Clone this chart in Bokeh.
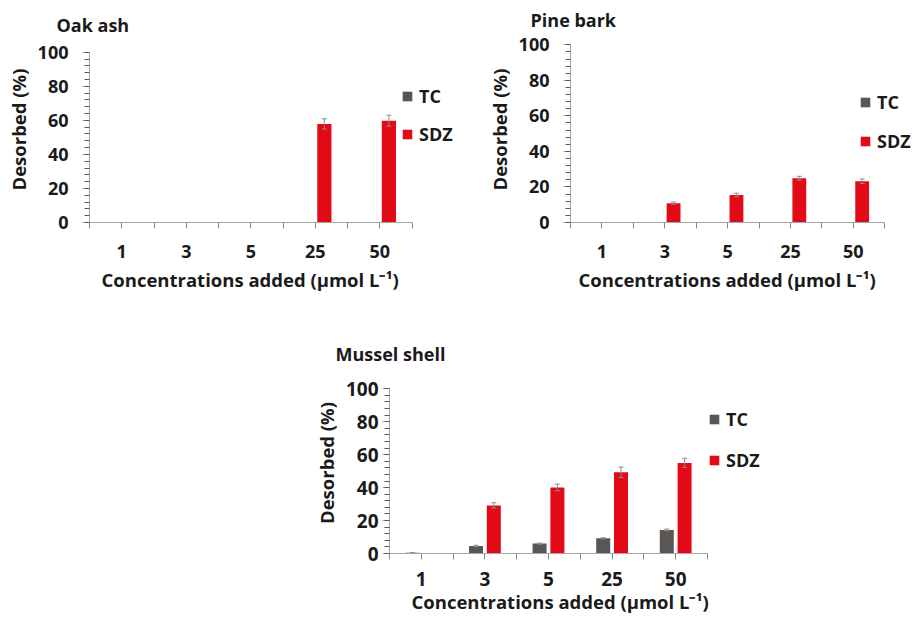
from bokeh.plotting import figure
from bokeh.models import (Range1d, FixedTicker, Legend, LegendItem, Title,
                          ColumnDataSource, Whisker, TeeHead, Spacer)
from bokeh.layouts import column, row
from bokeh.embed import file_html
from bokeh.resources import INLINE

# ---------------- data ----------------
categories = ["1", "3", "5", "25", "50"]
series_names = ["TC", "SDZ"]
y_ticks = [0, 20, 40, 60, 80, 100]
y_minor = list(range(0, 101, 4))

oak_tc = [0, 0, 0, 0, 0]
oak_tc_err = [0, 0, 0, 0, 0]
oak_sdz = [0, 0, 0, 57.9, 59.8]
oak_sdz_err = [0, 0, 0, 3.0, 3.2]

pine_tc = [0, 0, 0, 0, 0]
pine_tc_err = [0, 0, 0, 0, 0]
pine_sdz = [0, 10.9, 15.5, 24.9, 23.2]
pine_sdz_err = [0, 0.6, 1.0, 1.1, 1.3]

mussel_tc = [0.4, 4.6, 6.0, 9.3, 14.3]
mussel_tc_err = [0.1, 0.4, 0.3, 0.3, 0.5]
mussel_sdz = [0, 29.2, 40.1, 49.3, 55.0]
mussel_sdz_err = [0, 1.6, 2.0, 3.2, 2.8]

# ---------------- style ----------------
FONT = "Open Sans"
TXT = "#1a1a1a"
GRAY = "#5a5654"
RED = "#e30a17"
AXIS = "#a6a6a6"
XT = "Concentrations added (\u00b5mol L\u207b\u00b9)"
YT = "Desorbed (%)"


def make_panel(title, tc, tc_err, sdz, sdz_err, width, height, bl, bt, bb,
               axis_px, axis_top, frame_bottom,
               tick_fs, y_stand, x_stand, ylab_stand,
               title_off, title_stand, xt_off, xt_stand, leg_xy, leg_spacing):
    n = len(categories)
    frame_w = width - bl
    x_end = n * frame_w / axis_px
    # frame spans bt..frame_bottom; the value 100 sits at axis_top
    y_end = 100 * (frame_bottom - bt) / (frame_bottom - axis_top)
    p = figure(width=width, height=height, x_range=Range1d(0, x_end), y_range=Range1d(0, y_end),
               output_backend="svg", toolbar_location=None,
               min_border_left=bl, min_border_right=0, min_border_top=bt, min_border_bottom=bb)
    p.outline_line_color = None
    p.xgrid.visible = False
    p.ygrid.visible = False

    p.title.text = title
    p.title.align = "left"
    p.title.offset = title_off
    p.title.standoff = title_stand
    p.title.text_font = FONT
    p.title.text_font_style = "bold"
    p.title.text_font_size = "18px"
    p.title.text_color = TXT

    centers = [i + 0.5 for i in range(n)]
    src = ColumnDataSource(dict(
        x_tc=[c - 0.14 for c in centers], x_sdz=[c + 0.14 for c in centers],
        tc=tc, sdz=sdz))
    r_tc = p.vbar(x="x_tc", top="tc", width=0.22, source=src, fill_color=GRAY, line_color=None)
    r_sdz = p.vbar(x="x_sdz", top="sdz", width=0.22, source=src, fill_color=RED, line_color=None)

    for xs, vals, errs in ((src.data["x_tc"], tc, tc_err), (src.data["x_sdz"], sdz, sdz_err)):
        keep = [i for i, e in enumerate(errs) if e > 0]
        if not keep:
            continue
        es = ColumnDataSource(dict(
            x=[xs[i] for i in keep],
            upper=[vals[i] + errs[i] for i in keep],
            lower=[vals[i] - errs[i] for i in keep]))
        w = Whisker(base="x", upper="upper", lower="lower", source=es,
                    line_color="#8c8c8c", line_width=1, level="overlay",
                    upper_head=TeeHead(size=5, line_color="#8c8c8c", line_width=1),
                    lower_head=TeeHead(size=5, line_color="#8c8c8c", line_width=1))
        p.add_layout(w)

    xa = p.xaxis[0]
    xa.bounds = (0, n)
    xa.ticker = FixedTicker(ticks=centers, minor_ticks=list(range(n + 1)))
    xa.major_label_overrides = {c: lab for c, lab in zip(centers, categories)}
    xa.axis_line_color = AXIS
    xa.major_tick_line_color = "#8c8c8c"
    xa.minor_tick_line_color = "#8c8c8c"
    xa.major_tick_out = 6
    xa.major_tick_in = 0
    xa.minor_tick_out = 6
    xa.minor_tick_in = 0
    xa.major_label_standoff = x_stand

    ya = p.yaxis[0]
    ya.bounds = (0, 100)
    ya.ticker = FixedTicker(ticks=y_ticks, minor_ticks=y_minor)
    ya.axis_line_color = AXIS
    ya.major_tick_line_color = AXIS
    ya.minor_tick_line_color = "#595959"
    ya.major_tick_out = 7
    ya.major_tick_in = 0
    ya.minor_tick_out = 5
    ya.minor_tick_in = 0
    ya.major_label_standoff = y_stand
    ya.axis_label = YT
    ya.axis_label_standoff = ylab_stand

    for ax in (xa, ya):
        ax.major_label_text_font = FONT
        ax.major_label_text_font_style = "bold"
        ax.major_label_text_font_size = f"{tick_fs}px"
        ax.major_label_text_color = TXT
        ax.axis_label_text_font = FONT
        ax.axis_label_text_font_style = "bold"
        ax.axis_label_text_font_size = "18.5px"
        ax.axis_label_text_color = TXT

    # x-axis title, positioned under the category span
    p.add_layout(Title(text=XT, align="left", offset=xt_off, standoff=xt_stand,
                       vertical_align="top", text_font=FONT, text_font_style="bold",
                       text_font_size="18.5px", text_color=TXT), "below")

    leg = Legend(items=[LegendItem(label=series_names[0], renderers=[r_tc]),
                        LegendItem(label=series_names[1], renderers=[r_sdz])],
                 location=leg_xy, orientation="vertical",
                 glyph_width=12, glyph_height=12, label_height=24, label_standoff=6,
                 spacing=leg_spacing, padding=0, margin=0,
                 border_line_color=None, background_fill_alpha=0,
                 label_text_font=FONT, label_text_font_style="bold",
                 label_text_font_size="18px", label_text_color=TXT)
    p.add_layout(leg)
    return p


p1 = make_panel("Oak ash", oak_tc, oak_tc_err, oak_sdz, oak_sdz_err,
                width=460, height=330, bl=89, bt=36, bb=108,
                axis_px=322.6, axis_top=51.7, frame_bottom=222,
                tick_fs=18, y_stand=14, x_stand=16, ylab_stand=4,
                title_off=-33, title_stand=0, xt_off=12, xt_stand=12,
                leg_xy=(312, 76), leg_spacing=14)
p2 = make_panel("Pine bark", pine_tc, pine_tc_err, pine_sdz, pine_sdz_err,
                width=454, height=330, bl=110, bt=36, bb=108,
                axis_px=314.3, axis_top=44.3, frame_bottom=222,
                tick_fs=18, y_stand=14, x_stand=16, ylab_stand=4,
                title_off=-40, title_stand=9, xt_off=8, xt_stand=12,
                leg_xy=(289, 69), leg_spacing=15)
p3 = make_panel("Mussel shell", mussel_tc, mussel_tc_err, mussel_sdz, mussel_sdz_err,
                width=490, height=291, bl=89, bt=42, bb=68,
                axis_px=318.0, axis_top=58.3, frame_bottom=223,
                tick_fs=19, y_stand=4, x_stand=12, ylab_stand=4,
                title_off=-54, title_stand=14, xt_off=22, xt_stand=0,
                leg_xy=(319, 81), leg_spacing=17)

layout = column(row(p1, p2, spacing=0),
                row(Spacer(width=300, height=291), p3, spacing=0),
                spacing=0)

open("out.html", "w").write(file_html(layout, INLINE))
